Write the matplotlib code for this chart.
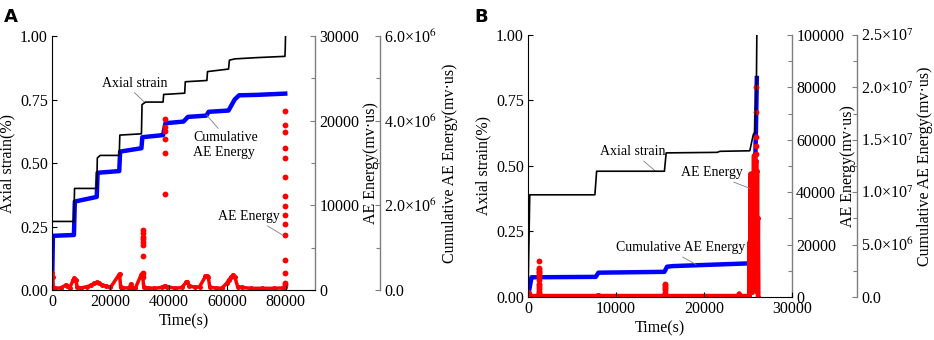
import numpy as np
import matplotlib
matplotlib.use("Agg")
import matplotlib.pyplot as plt
from matplotlib.ticker import MultipleLocator, FuncFormatter

plt.rcParams['font.family'] = ['Liberation Serif', 'DejaVu Serif']
plt.rcParams['mathtext.fontset'] = 'stix'

# ---------------- panel A data ----------------
strain_a_t = [0, 60, 7500, 7700, 15300, 15500, 16500, 23000, 23200, 30600, 30800, 32000, 38000, 38200,
              45400, 45600, 53000, 53200, 60400, 60700, 62500, 70000, 79700, 79800, 79900]
strain_a_v = [0, 0.27, 0.27, 0.40, 0.40, 0.52, 0.53, 0.53, 0.61, 0.615, 0.73, 0.74, 0.74, 0.77,
              0.775, 0.82, 0.825, 0.86, 0.87, 0.905, 0.91, 0.915, 0.92, 0.95, 1.00]

cum_a_t = [0, 300, 7500, 7800, 15300, 15600, 23000, 23300, 30600, 30900, 38000, 38800,
           45000, 46500, 52800, 53600, 60400, 62500, 64000, 70000, 79800]
cum_a_v = [0, 1.28e6, 1.30e6, 2.09e6, 2.20e6, 2.77e6, 2.81e6, 3.27e6, 3.35e6, 3.61e6, 3.66e6, 3.94e6,
           3.98e6, 4.09e6, 4.12e6, 4.21e6, 4.24e6, 4.50e6, 4.60e6, 4.61e6, 4.64e6]

ae_a_t = [0, 200, 400, 1000, 3000, 4800, 5200, 6000, 7300, 7600, 8200, 8600, 10000, 12000, 13500,
          14500, 15300, 16000, 17000, 18500, 20000, 22900, 23100, 23500, 24000, 26500, 26900, 27300,
          28500, 30500, 30700, 31000, 31400, 33000, 35000, 37500, 38500, 39500, 42000, 44500, 45800,
          46300, 47000, 49000, 50500, 52500, 53000, 53500, 54000, 56000, 58000, 59800, 60500, 61200,
          62000, 62600, 63500, 65000, 68000, 72000, 76000, 79000, 79800]
ae_a_v = [2000, 1500, 300, 200, 250, 600, 500, 250, 1200, 1400, 1200, 300, 250, 400, 600,
          800, 900, 850, 600, 500, 300, 1800, 1900, 300, 250, 250, 700, 250,
          200, 1800, 1900, 1700, 300, 250, 200, 300, 500, 400, 200, 300, 900,
          1000, 500, 300, 400, 1600, 1700, 1500, 300, 250, 200, 800, 1200, 1500,
          1800, 1500, 400, 300, 200, 200, 200, 250, 300]

ev_a_t = [31000] * 9 + [38800] * 6 + [79800] * 15
ev_a_v = [7087, 6693, 6299, 5984, 5709, 5315, 4016, 1575, 2000,
          20157, 19291, 18780, 17795, 16142, 11339,
          21142, 19488, 18701, 16811, 15630, 13386, 11102, 9921, 8858, 7795, 6457, 3543, 2047, 866, 591]

# ---------------- panel B data ----------------
strain_b_t = [0, 200, 7600, 7800, 15500, 15700, 21500, 21800, 25200, 25600, 25800, 25950, 26000]
strain_b_v = [0, 0.39, 0.39, 0.48, 0.48, 0.55, 0.552, 0.556, 0.558, 0.62, 0.63, 0.80, 1.00]

cum_b_t = [0, 400, 7700, 8000, 15500, 15800, 16500, 25200, 25400, 25600, 25800, 25900, 26000]
cum_b_v = [0, 1.88e6, 1.92e6, 2.32e6, 2.40e6, 2.89e6, 2.95e6, 3.21e6, 4.5e6, 6.2e6, 1.2e7, 1.6e7, 2.09e7]

ae_b_t = [0, 150, 300, 1200, 1300, 1400, 3000, 7800, 8000, 8200, 12000, 15500, 15600, 15700,
          18000, 22000, 23900, 24000, 24100, 25100,
          25150, 25200, 25250, 25300, 25350, 25400, 25450, 25500, 25550, 25600, 25650, 25700,
          25750, 25800, 25850, 25900, 25950, 26000, 26050, 26100, 26150]
ae_b_v = [2000, 1500, 300, 300, 2500, 300, 300, 300, 600, 300, 300, 300, 1500, 300,
          300, 300, 300, 1300, 300, 300,
          0, 21000, 3000, 47000, 5000, 46000, 2000, 41000, 8000, 33000, 10000, 54000,
          6000, 52000, 12000, 52000, 5000, 48000, 2000, 30000, 0]

ev_b_t = [1300] * 14 + [15600] * 7 + [25850, 25850, 25900, 25850, 25900, 25300, 25350, 25400, 25350, 25600]
ev_b_v = [13800, 11000, 10500, 10000, 9500, 9000, 8300, 7500, 6500, 5000, 4500, 4000, 3000, 2000,
          5100, 4500, 4000, 3500, 2500, 1500, 800,
          80000, 70600, 61000, 57500, 54500, 47000, 45500, 44000, 42500, 32000]

fs = 11.5
gray = '#7f7f7f'


def sci_fmt(v, pos):
    if abs(v) < 1e-6:
        return '0.0'
    if v < 0:
        return ''
    e = int(np.floor(np.log10(v)))
    return '{:.1f}×10$^{{{}}}$'.format(v / 10 ** e, e)


def make_panel(rect, xlim, xmajor, ae_lim, ae_major, cum_lim, cum_major,
               st_t, st_v, cum_t, cum_v, ae_t, ae_v, ev_t, ev_v, ae_lw, lab_x):
    ax = fig.add_axes(rect)
    ax2 = ax.twinx()
    ax3 = ax.twinx()
    ax3.spines['right'].set_position(('axes', 1.247))

    ax3.plot(cum_t, cum_v, color='blue', lw=3.2, zorder=2)
    ax2.plot(ae_t, ae_v, '-o', color='red', lw=ae_lw, ms=3.6, mec='none', zorder=3)
    ax2.plot(ev_t, ev_v, 'o', color='red', ms=4.2, mec='none', zorder=3)
    ax.plot(st_t, st_v, color='black', lw=1.2, zorder=4)
    ax3.set_zorder(1)
    ax2.set_zorder(2)
    ax.set_zorder(3)
    ax.patch.set_visible(False)

    ax.set_xlim(*xlim)
    ax.set_ylim(0, 1)
    ax2.set_ylim(*ae_lim)
    ax3.set_ylim(*cum_lim)
    ax.xaxis.set_major_locator(MultipleLocator(xmajor))
    ax.yaxis.set_major_locator(MultipleLocator(0.25))
    ax.yaxis.set_major_formatter(FuncFormatter(lambda v, p: '{:.2f}'.format(v)))
    ax2.yaxis.set_major_locator(MultipleLocator(ae_major))
    ax2.yaxis.set_minor_locator(MultipleLocator(ae_major / 2))
    ax3.yaxis.set_major_locator(MultipleLocator(cum_major))
    ax3.yaxis.set_minor_locator(MultipleLocator(cum_major / 2))
    ax3.yaxis.set_major_formatter(FuncFormatter(sci_fmt))

    for a in (ax, ax2, ax3):
        a.spines['top'].set_visible(False)
        a.tick_params(direction='in', length=3.5, width=0.8, labelsize=fs, pad=3)
        a.tick_params(which='minor', direction='in', length=3.0, width=0.8)
    ax.spines['right'].set_visible(False)
    for a in (ax2, ax3):
        a.spines['left'].set_visible(False)
        a.spines['bottom'].set_visible(False)
        a.spines['right'].set_color(gray)
        a.spines['right'].set_linewidth(1.0)
        a.tick_params(which='both', color=gray)

    ax.set_xlabel('Time(s)', fontsize=fs, labelpad=2)
    ax.set_ylabel('Axial strain(%)', fontsize=fs)
    ax2.set_ylabel('AE Energy(mv·us)', fontsize=fs)
    ax3.set_ylabel('Cumulative AE Energy(mv·us)', fontsize=fs)
    ax.yaxis.set_label_coords(lab_x[0], 0.5)
    ax2.yaxis.set_label_coords(lab_x[1], 0.5)
    ax3.yaxis.set_label_coords(lab_x[2], 0.5)
    return ax


fig = plt.figure(figsize=(9.34, 3.4), dpi=100)

axA = make_panel([0.0557, 0.147, 0.2816, 0.747], (0, 90000), 20000, (0, 30000), 10000, (0, 6e6), 2e6,
                 strain_a_t, strain_a_v, cum_a_t, cum_a_v, ae_a_t, ae_a_v, ev_a_t, ev_a_v,
                 2.5, (-0.141, 1.183, 1.483))
axB = make_panel([0.5653, 0.1265, 0.2827, 0.7706], (0, 30000), 10000, (0, 100000), 20000, (0, 2.5e7), 5e6,
                 strain_b_t, strain_b_v, cum_b_t, cum_b_v, ae_b_t, ae_b_v, ev_b_t, ev_b_v,
                 3.5, (-0.140, 1.182, 1.473))

lp = dict(arrowstyle='-', color=gray, lw=0.6, shrinkA=0, shrinkB=0)
afs = 10
axA.annotate('Axial strain', xy=(31500, 0.741), xytext=(28300, 0.814), ha='center', va='center',
             fontsize=afs, arrowprops=dict(lp, relpos=(0.45, 0)))
axA.annotate('Cumulative\nAE Energy', xy=(52900, 0.689), xytext=(48400, 0.57), ha='left', va='center',
             fontsize=afs, arrowprops=dict(lp, relpos=(0.42, 1)))
axA.annotate('AE Energy', xy=(79100, 0.215), xytext=(56900, 0.289), ha='left', va='center',
             fontsize=afs, arrowprops=dict(lp, relpos=(0.72, 0)))

axB.annotate('Axial strain', xy=(14430, 0.482), xytext=(8160, 0.554), ha='left', va='center',
             fontsize=afs, arrowprops=dict(lp, relpos=(0.62, 0)))
axB.annotate('AE Energy', xy=(25250, 0.414), xytext=(17350, 0.474), ha='left', va='center',
             fontsize=afs, arrowprops=dict(lp, relpos=(0.74, 0)))
axB.annotate('Cumulative AE Energy', xy=(19100, 0.124), xytext=(9950, 0.188), ha='left', va='center',
             fontsize=afs, arrowprops=dict(lp, relpos=(0.48, 0)))

fig.text(0.004, 0.975, 'A', fontsize=13, fontweight='bold', family='DejaVu Sans', va='top')
fig.text(0.508, 0.975, 'B', fontsize=13, fontweight='bold', family='DejaVu Sans', va='top')

fig.savefig('out.png', dpi=100)
